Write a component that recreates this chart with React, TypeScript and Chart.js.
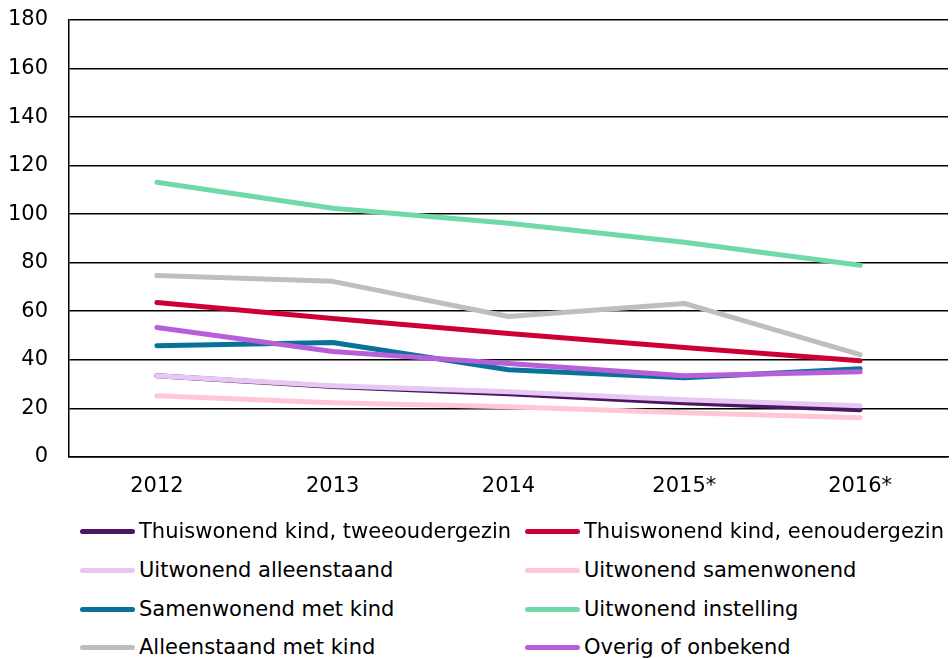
import React, { useEffect, useRef } from "react";
import { Chart, registerables } from "chart.js";

Chart.register(...registerables);

const categories = ["2012", "2013", "2014", "2015*", "2016*"];

const seriesNames = [
  "Thuiswonend kind, tweeoudergezin",
  "Thuiswonend kind, eenoudergezin",
  "Uitwonend alleenstaand",
  "Uitwonend samenwonend",
  "Samenwonend met kind",
  "Uitwonend instelling",
  "Alleenstaand met kind",
  "Overig of onbekend",
];

const seriesColors = [
  "#4b1762",
  "#cc0035",
  "#e6c8f3",
  "#ffc6d6",
  "#0a7298",
  "#70d9aa",
  "#bebebe",
  "#b65fd9",
];

const tweeouder = [33.4, 29.0, 26.0, 22.3, 19.4];
const eenouder = [63.6, 57.0, 50.8, 45.0, 39.6];
const uitAlleenstaand = [33.4, 29.3, 26.8, 23.5, 21.0];
const uitSamenwonend = [25.2, 22.3, 20.6, 18.2, 16.1];
const samenMetKind = [45.8, 47.1, 35.9, 32.6, 36.3];
const uitInstelling = [113.1, 102.4, 96.2, 88.4, 78.9];
const alleenMetKind = [74.7, 72.3, 57.8, 63.2, 42.1];
const overig = [53.3, 43.4, 38.4, 33.4, 35.0];

const seriesValues = [
  tweeouder,
  eenouder,
  uitAlleenstaand,
  uitSamenwonend,
  samenMetKind,
  uitInstelling,
  alleenMetKind,
  overig,
];

const FONT = "'DejaVu Sans', Verdana, sans-serif";
const FONT_SIZE = 21;

export default function App() {
  const canvasRef = useRef<HTMLCanvasElement | null>(null);

  useEffect(() => {
    if (!canvasRef.current) return;
    const chart = new Chart(canvasRef.current, {
      type: "line",
      data: {
        labels: categories,
        datasets: seriesNames.map((name, i) => ({
          label: name,
          data: seriesValues[i],
          borderColor: seriesColors[i],
          backgroundColor: seriesColors[i],
          borderWidth: 5,
          pointRadius: 0,
          pointHoverRadius: 0,
          tension: 0,
          borderCapStyle: "round" as const,
          borderJoinStyle: "round" as const,
          fill: false,
          order: -i,
        })),
      },
      options: {
        animation: false,
        responsive: false,
        maintainAspectRatio: false,
        layout: { padding: { top: 20, left: 10, right: 4, bottom: 3 } },
        plugins: {
          legend: { display: false },
          tooltip: { enabled: false },
        },
        scales: {
          x: {
            type: "category",
            offset: true,
            grid: { display: false, drawTicks: false },
            border: { display: true, color: "#000", width: 1.5 },
            ticks: {
              padding: 17,
              color: "#000",
              font: { family: FONT, size: FONT_SIZE },
              maxRotation: 0,
            },
            afterFit: (scale: any) => {
              scale.paddingLeft = 0;
              scale.paddingRight = 0;
            },
          },
          y: {
            min: 0,
            max: 180,
            ticks: {
              stepSize: 20,
              padding: 21,
              color: "#000",
              font: { family: FONT, size: FONT_SIZE },
            },
            grid: { color: "#000", lineWidth: 1.5, drawTicks: false },
            border: { display: true, color: "#000", width: 1.5 },
            afterFit: (scale: any) => {
              scale.width = 59;
              scale.paddingTop = 0;
              scale.paddingBottom = 0;
            },
          },
        },
      },
    });
    return () => chart.destroy();
  }, []);

  const colX = [80, 525];
  const rowY = [531, 570, 609, 647];

  return (
    <div
      style={{
        position: "absolute",
        left: 0,
        top: 0,
        width: 952,
        height: 659,
        background: "#fff",
        overflow: "hidden",
      }}
    >
      <canvas
        ref={canvasRef}
        width={952}
        height={519}
        style={{ position: "absolute", left: 0, top: 0, width: 952, height: 519 }}
      />
      {seriesNames.map((name, i) => {
        const x = colX[i % 2];
        const y = rowY[Math.floor(i / 2)];
        return (
          <div
            key={name}
            style={{
              position: "absolute",
              left: x,
              top: y - 14,
              height: 28,
              display: "flex",
              alignItems: "center",
              whiteSpace: "nowrap",
              fontFamily: FONT,
              fontSize: FONT_SIZE,
              color: "#000",
            }}
          >
            <span
              style={{
                display: "inline-block",
                width: 55,
                height: 5,
                borderRadius: 3,
                background: seriesColors[i],
                marginRight: 4,
              }}
            />
            <span>{name}</span>
          </div>
        );
      })}
    </div>
  );
}
